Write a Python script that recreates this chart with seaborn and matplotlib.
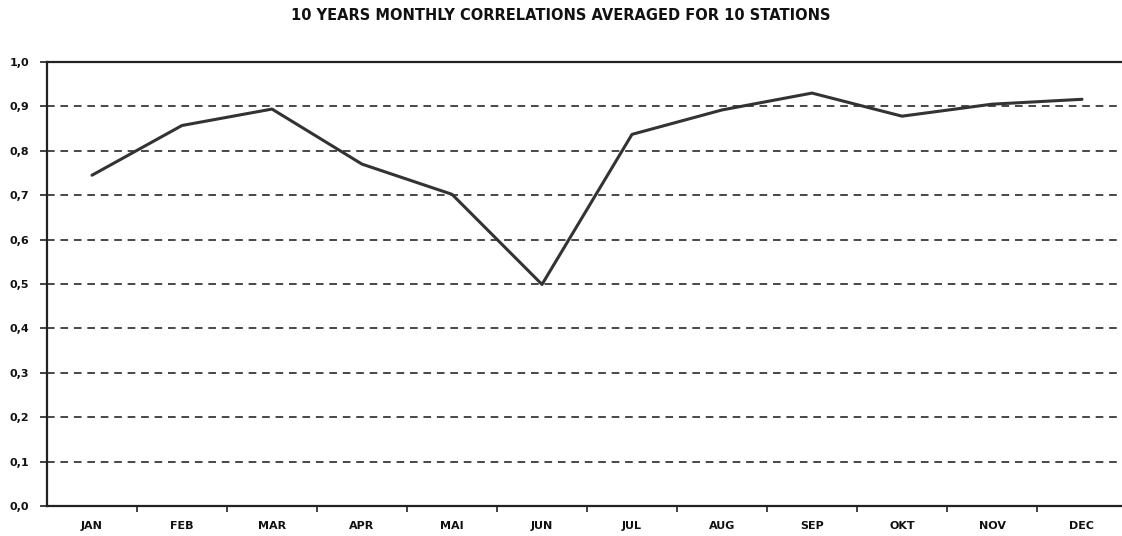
import matplotlib
matplotlib.use("Agg")
import matplotlib.pyplot as plt
from matplotlib.ticker import FuncFormatter, MultipleLocator
import pandas as pd
import seaborn as sns

months = ["JAN", "FEB", "MAR", "APR", "MAI", "JUN",
          "JUL", "AUG", "SEP", "OKT", "NOV", "DEC"]
correlation = [0.745, 0.857, 0.894, 0.770, 0.702, 0.499,
               0.837, 0.892, 0.930, 0.878, 0.905, 0.916]
title = "10 YEARS MONTHLY CORRELATIONS AVERAGED FOR 10 STATIONS"

df = pd.DataFrame({"month": months, "corr": correlation})

sns.set_theme(style="white")
plt.rcParams["font.family"] = ["DejaVu Sans"]

fig = plt.figure(figsize=(11.22, 5.36), dpi=100)
ax = fig.add_axes([47 / 1122, 30 / 536, 1080 / 1122, 444 / 536])

sns.lineplot(data=df, x="month", y="corr", sort=False, ax=ax,
             color="#333333", linewidth=2.2)

ax.set_xlim(-0.5, len(months) - 0.5)
ax.set_ylim(0.0, 1.0)
ax.yaxis.set_major_locator(MultipleLocator(0.1))
ax.yaxis.set_major_formatter(FuncFormatter(lambda v, _: f"{v:.1f}".replace(".", ",")))

# Dashed horizontal gridlines
ax.grid(axis="y", linestyle=(0, (5, 3.8)), color="#161616", linewidth=1.1)
ax.grid(axis="x", visible=False)
ax.set_axisbelow(True)

# Ticks on the x axis sit between month categories
ax.set_xticks(range(len(months)))
ax.set_xticklabels(months)
ax.set_xticks([i + 0.5 for i in range(len(months) - 1)], minor=True)
ax.tick_params(axis="x", which="major", length=0, pad=11, labelsize=8)
ax.tick_params(axis="x", which="minor", length=4, width=1.2, color="#222222",
               direction="out", bottom=True)
ax.tick_params(axis="y", length=5, width=1.2, color="#222222", direction="out",
               left=True, labelsize=8, pad=8)

for side in ["left", "bottom", "top"]:
    ax.spines[side].set_visible(True)
    ax.spines[side].set_color("#222222")
    ax.spines[side].set_linewidth(1.6)
ax.spines["right"].set_visible(False)

ax.set_xlabel("")
ax.set_ylabel("")
for lbl in ax.get_xticklabels() + ax.get_yticklabels():
    lbl.set_color("#111111")
    lbl.set_fontweight("bold")

fig.text(561 / 1122, 1 - 16 / 536, title, ha="center", va="center",
         fontsize=10.5, fontweight="bold", color="#111111")

fig.savefig("out.png", dpi=100, facecolor="white")
